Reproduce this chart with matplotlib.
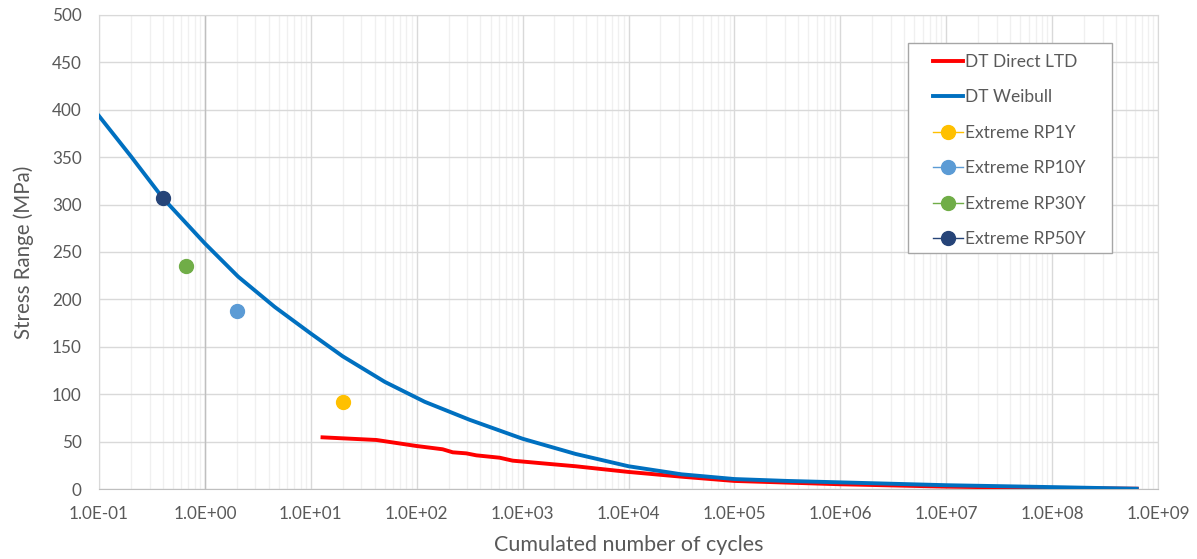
import numpy as np
import matplotlib
matplotlib.use('Agg')
import matplotlib.pyplot as plt
from matplotlib.patches import Rectangle
from matplotlib.ticker import LogLocator, FixedLocator, FuncFormatter, NullFormatter

plt.rcParams['font.family'] = ['Lato', 'DejaVu Sans']

# DT Weibull (cycles, MPa)
weib_n = [0.1, 0.2, 0.4, 1.0, 2.06, 4.57, 10, 20, 50, 119, 316, 1e3,
          3.16e3, 1e4, 3.16e4, 1e5, 3.16e5, 1e6, 1e7, 1e8, 6.3e8]
weib_s = [393.5, 351, 307, 259, 224, 192, 164, 140, 113, 92, 73, 53,
          37, 24, 15.5, 10.5, 8.5, 7, 4, 2, 0.3]

# DT Direct LTD
ltd_n = [12.9, 41.7, 99, 176, 219, 294, 366, 607, 805, 1800, 3.16e3, 5.6e3, 1e4,
         3.16e4, 1e5, 1e6, 1e7, 1e8, 6.3e8]
ltd_s = [54.5, 51.7, 45.4, 41.9, 38.7, 37.6, 35.5, 33, 29.9, 26.4, 24, 21, 18,
         13, 8.5, 5, 2.5, 1, 0.3]

# extreme values
ext_names = ['Extreme RP1Y', 'Extreme RP10Y', 'Extreme RP30Y', 'Extreme RP50Y']
ext_n = [20, 2.0, 0.66, 0.40]
ext_s = [92, 188, 235, 307]
ext_colors = ['#FFC000', '#5B9BD5', '#70AD47', '#264478']

W, H = 1197, 559
fig = plt.figure(figsize=(W / 100, H / 100), dpi=100)
ax = fig.add_axes([99/W, 1-489/H, (1158-99)/W, (489-15)/H])

ax.plot(ltd_n, ltd_s, color='#FF0000', lw=2.8, label='DT Direct LTD', zorder=4,
        solid_joinstyle='round')
ax.plot(weib_n, weib_s, color='#0070C0', lw=2.8, label='DT Weibull', zorder=4,
        solid_joinstyle='round')
for nm, n, s, c in zip(ext_names, ext_n, ext_s, ext_colors):
    ax.plot([n], [s], marker='o', ms=10, color=c, lw=1, label=nm, zorder=5)

ax.set_xscale('log')
ax.set_xlim(0.1, 1e9)
ax.set_ylim(0, 500)
ax.yaxis.set_major_locator(FixedLocator(np.arange(0, 501, 50)))
ax.xaxis.set_major_locator(FixedLocator([10.0 ** k for k in range(-1, 10)]))
ax.xaxis.set_minor_locator(LogLocator(base=10, subs=np.arange(2, 10), numticks=20))
ax.xaxis.set_major_formatter(FuncFormatter(lambda v, p: '1.0E%+03d' % round(np.log10(v))))
ax.xaxis.set_minor_formatter(NullFormatter())

ax.grid(True, which='major', color='#d9d9d9', lw=1, zorder=0)
ax.grid(True, which='minor', axis='x', color='#f0f0f0', lw=1, zorder=0)
ax.axvline(1.0, color='#bfbfbf', lw=1, zorder=1)
ax.set_axisbelow(True)

for side in ['top', 'right', 'left']:
    ax.spines[side].set_color('#d9d9d9')
ax.spines['bottom'].set_color('#bfbfbf')
ax.tick_params(axis='both', which='both', length=0, labelsize=12.3, labelcolor='#595959', pad=12.5)

ax.set_xlabel('Cumulated number of cycles', fontsize=15.5, color='#595959', labelpad=9)
ax.set_ylabel('Stress Range (MPa)', fontsize=14.8, color='#595959', labelpad=13)

# legend box drawn separately so the side padding can match
box = Rectangle((908/W, 1-253/H), (1112-908)/W, (253-43)/H, transform=fig.transFigure,
                facecolor='white', edgecolor='#a6a6a6', lw=1, zorder=5.5, clip_on=False)
ax.add_artist(box)
leg = ax.legend(loc='upper left', bbox_to_anchor=(933/W, 1-54/H), bbox_transform=fig.transFigure,
                fontsize=12.5, frameon=False, handlelength=1.7, handletextpad=0.12,
                labelspacing=1.12, borderpad=0, borderaxespad=0)
leg.set_zorder(6)
for t in leg.get_texts():
    t.set_color('#595959')

fig.savefig('out.png', dpi=100)
